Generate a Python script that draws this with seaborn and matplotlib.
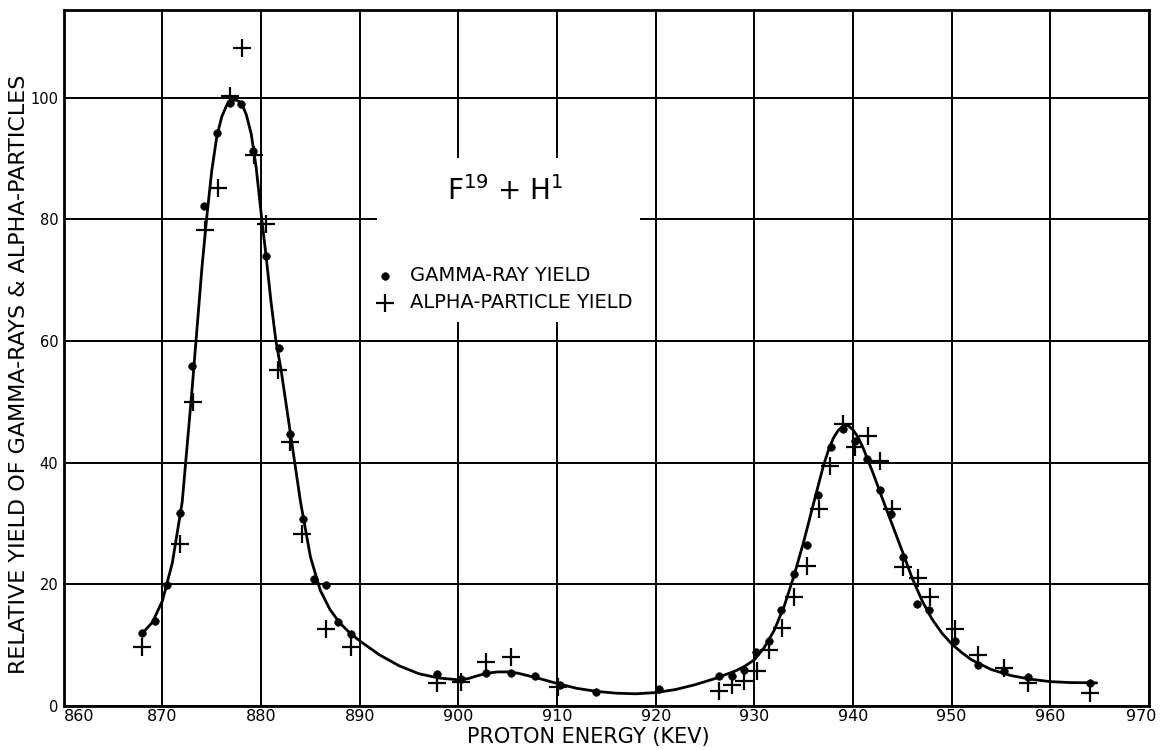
import numpy as np
import pandas as pd
import seaborn as sns
import matplotlib.pyplot as plt
from matplotlib.patches import Rectangle
from matplotlib.transforms import ScaledTranslation

# gamma-ray yield (dots)
gamma_x = [867.9, 869.2, 870.5, 871.8, 873.0, 874.2, 875.5, 876.8, 878.0, 879.2,
           880.5, 881.8, 882.9, 884.2, 885.4, 886.6, 887.8, 889.1, 897.8, 900.3,
           902.8, 905.3, 907.8, 910.3, 913.9, 920.3, 926.4, 927.7, 928.9, 930.2,
           931.5, 932.7, 934.0, 935.3, 936.5, 937.8, 939.0, 940.2, 941.4, 942.7,
           943.8, 945.1, 946.5, 947.7, 950.3, 952.7, 955.3, 957.7, 964.0]
gamma_y = [12.0, 14.0, 19.9, 31.7, 55.9, 82.1, 94.2, 99.1, 99.0, 91.2,
           74.0, 58.8, 44.7, 30.7, 20.8, 19.9, 13.8, 11.8, 5.2, 4.4,
           5.5, 5.4, 4.9, 3.4, 2.3, 2.8, 4.9, 4.9, 5.9, 8.8,
           10.7, 15.8, 21.7, 26.5, 34.6, 42.6, 45.5, 43.6, 40.6, 35.5,
           31.5, 24.5, 16.7, 15.8, 10.7, 6.7, 5.8, 4.8, 3.8]

# alpha-particle yield (plus signs)
alpha_x = [867.9, 871.8, 873.1, 874.3, 875.6, 876.8, 878.1, 879.3, 880.5, 881.7,
           882.9, 884.1, 886.6, 889.1, 897.8, 900.3, 902.8, 905.3, 910.1, 926.4,
           927.7, 928.9, 930.3, 931.5, 932.8, 934.0, 935.3, 936.6, 937.7, 939.0,
           940.2, 941.5, 942.7, 944.0, 945.1, 946.6, 947.8, 950.3, 952.7, 955.3,
           957.7, 964.0]
alpha_y = [9.7, 26.7, 50.0, 78.3, 85.2, 100.2, 108.2, 90.5, 79.3, 55.2,
           43.4, 28.3, 12.7, 9.7, 3.7, 4.0, 7.3, 8.0, 3.2, 2.4,
           3.5, 4.1, 5.8, 9.2, 12.8, 17.9, 23.0, 32.3, 39.4, 46.3,
           42.6, 44.4, 40.3, 32.3, 22.8, 21.1, 17.9, 12.6, 8.4, 6.2,
           3.8, 2.1]

# hand-drawn fitted curve
curve_x = [868, 869, 870, 871, 872, 873, 873.5, 874, 874.5, 875, 875.5, 876, 876.5,
           877, 877.5, 878, 878.5, 879, 879.5, 880, 880.5, 881, 881.5, 882, 883,
           884, 885, 886, 887, 888, 889, 890, 892, 894, 896, 898, 900, 901, 902,
           903, 904, 905, 906, 907, 908, 910, 912, 914, 916, 918, 920, 922, 924,
           926, 928, 929, 930, 931, 932, 933, 934, 935, 936, 937, 937.5, 938,
           938.5, 939, 939.5, 940, 940.5, 941, 942, 943, 944, 945, 946, 947, 948,
           949, 950, 951, 952, 954, 956, 958, 960, 962, 964.7]
curve_y = [12.0, 13.8, 17.3, 23.5, 33.5, 52.0, 62.0, 72.0, 80.5, 88.0, 93.5, 96.8, 98.7,
           99.5, 99.6, 99.1, 97.2, 94.0, 88.5, 81.0, 74.0, 66.5, 60.0, 55.5, 44.5,
           33.5, 24.5, 19.0, 15.8, 13.6, 12.0, 10.7, 8.4, 6.6, 5.3, 4.6, 4.3, 4.5, 5.0,
           5.4, 5.6, 5.6, 5.4, 5.0, 4.6, 3.7, 2.9, 2.4, 2.1, 2.0, 2.2, 2.7, 3.5,
           4.5, 5.7, 6.5, 7.6, 9.6, 12.4, 16.3, 21.3, 27.0, 33.3, 39.5, 42.0, 44.0,
           45.3, 46.0, 46.1, 45.4, 44.2, 42.5, 38.4, 34.0, 29.7, 25.4, 21.0, 17.3, 14.3,
           12.0, 10.2, 8.8, 7.6, 6.0, 5.0, 4.4, 4.0, 3.85, 3.8]

x_ticks = list(range(860, 971, 10))
y_ticks = [0, 20, 40, 60, 80, 100]

sns.set_style("white")
plt.rcParams['font.family'] = ['DejaVu Sans']
plt.rcParams['text.color'] = 'black'
plt.rcParams['axes.labelcolor'] = 'black'

fig = plt.figure(figsize=(11.6, 7.5), dpi=100)
ax = fig.add_axes([0.055, 0.0587, 0.9355, 0.928])

# grid every 10 keV and every 20 units
ax.set_xticks(x_ticks)
ax.set_yticks(y_ticks)
ax.set_axisbelow(True)
ax.grid(True, color='black', linewidth=1.4)

# white patch behind the title / legend box (grid is broken there)
ax.add_patch(Rectangle((891.7, 63.1), 26.7, 27.0, facecolor='white',
                       edgecolor='none', zorder=1))

sns.lineplot(x=curve_x, y=curve_y, color='black', linewidth=2.0, sort=False,
             ax=ax, zorder=3)
sns.scatterplot(x=gamma_x, y=gamma_y, marker='o', s=30, color='black',
                edgecolor='black', label='GAMMA-RAY YIELD', ax=ax, zorder=4)
sns.scatterplot(x=alpha_x, y=alpha_y, marker='+', s=170, color='black',
                linewidth=1.6, label='ALPHA-PARTICLE YIELD', ax=ax, zorder=4)

ax.set_xlim(860, 970)
ax.set_ylim(0, 114.4)

for s in ax.spines.values():
    s.set_color('black')
    s.set_linewidth(2)

ax.tick_params(axis='both', length=0, colors='black', labelcolor='black')
ax.tick_params(axis='x', pad=2, labelsize=11.5)
ax.tick_params(axis='y', pad=4, labelsize=10.5)

# end labels sit inside the frame edges like in the original
xl = ax.get_xticklabels()
xl[0].set_ha('left')
xl[-1].set_ha('right')
xl[-1].set_transform(xl[-1].get_transform() + ScaledTranslation(5 / 72, 0, fig.dpi_scale_trans))

ax.set_xlabel('PROTON ENERGY (KEV)', fontsize=15, va='top', color='black')
ax.xaxis.set_label_coords(0.483, -0.0305)
ax.set_ylabel('RELATIVE YIELD OF GAMMA-RAYS & ALPHA-PARTICLES', fontsize=16, color='black')
ax.yaxis.set_label_coords(-0.032, 0.476)

ax.text(904.7, 84.6, r'F$^{19}$ + H$^{1}$', fontsize=20, ha='center', va='center',
        color='black', zorder=5)

leg = ax.legend(loc='upper left', bbox_to_anchor=(0.278, 0.646), frameon=False,
                fontsize=14, handlelength=1.0, handletextpad=0.8, borderpad=0,
                labelspacing=0.4, labelcolor='black')

fig.savefig('out.png', dpi=100, facecolor='white')
